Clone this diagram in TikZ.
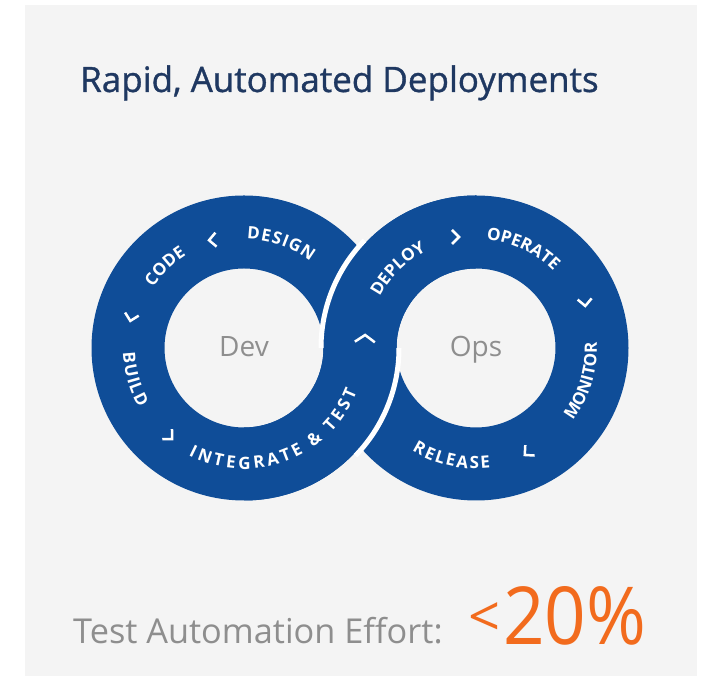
\documentclass[tikz,border=0pt]{standalone}
\usepackage{fontspec}
\setmainfont{Open Sans}
\newfontfamily\lblfont{Open Sans}
\newfontfamily\titlefont[FakeBold=1]{Open Sans}
\usetikzlibrary{decorations.text}
\definecolor{ringblue}{HTML}{0F4D98}
\definecolor{panelgray}{HTML}{F4F4F4}
\definecolor{titleblue}{HTML}{1F3861}
\definecolor{hubgray}{HTML}{8E8E8E}
\definecolor{effortorange}{HTML}{F26B1D}
\tikzset{
	ring/.style={fill=ringblue, even odd rule},
	gap/.style={draw=white, line width=5pt},
	chev/.style={draw=white, line width=2.5pt, line join=miter},
	arclabel/.style={decorate, decoration={text along path, text align={fit to path}, text color=white,
		text={|\lblfont\bfseries\fontsize{17}{17}\selectfont|#1}}},
	hubtext/.style={anchor=base, inner sep=0pt, text=hubgray, font=\fontsize{28}{28}\selectfont},
}

\begin{document}
\begin{tikzpicture}[x=1pt, y=1pt]
		\useasboundingbox (0,0) rectangle (705,676);
		\fill[white] (0,0) rectangle (705,676);
		\fill[panelgray] (25,0) rectangle (697,671);
		\coordinate (L) at (244,328);
		\coordinate (R) at (476,328);
		\fill[ring] (L) circle[radius=152.5] (L) circle[radius=79.5];
		\fill[ring] (R) circle[radius=152.5] (R) circle[radius=79.5];
		\fill[ringblue] (L) ++(270:152.5) arc[start angle=270, end angle=360, radius=152.5]
			arc[start angle=180, end angle=90, radius=79.5] -- ++(0,73)
			arc[start angle=90, end angle=180, radius=152.5]
			arc[start angle=0, end angle=-90, radius=79.5] -- cycle;
		\draw[gap] (R) ++(180:155) arc[start angle=180, end angle=136, radius=155];
		\draw[gap] (L) ++(0:155) arc[start angle=0, end angle=-44, radius=155];
		\path[arclabel=DESIGN] (L) ++(88.5:109) arc[start angle=88.5, end angle=52.5, radius=109];
		\path[arclabel=CODE] (L) ++(146.4:109) arc[start angle=146.4, end angle=123, radius=109];
		\path[arclabel=BUILD] (L) ++(182:121) arc[start angle=182, end angle=209.4, radius=121];
		\path[arclabel={INTEGRATE {\&} TEST}] (L) ++(242.7:121) arc[start angle=242.7, end angle=338.9, radius=121];
		\path[arclabel=DEPLOY] (R) ++(152:109) arc[start angle=152, end angle=118.5, radius=109];
		\path[arclabel=OPERATE] (R) ++(84.6:109) arc[start angle=84.6, end angle=46.4, radius=109];
		\path[arclabel=MONITOR] (R) ++(323:121) arc[start angle=323, end angle=361.4, radius=121];
		\path[arclabel=RELEASE] (R) ++(238:121) arc[start angle=238, end angle=276.8, radius=121];
		\draw[chev, shift={(212,436)}, rotate=185] (-4,7) -- (3,0) -- (-4,-7);
		\draw[chev, shift={(131,358)}, rotate=257] (-4,7) -- (3,0) -- (-4,-7);
		\draw[chev, shift={(170,239)}, rotate=316] (-4,7) -- (3,0) -- (-4,-7);
		\draw[chev, shift={(365,338)}, rotate=88] (-4,10) -- (3,0) -- (-4,-10);
		\draw[chev, shift={(456,439)}, rotate=0] (-4,7) -- (3,0) -- (-4,-7);
		\draw[chev, shift={(585,373)}, rotate=275] (-4,7) -- (3,0) -- (-4,-7);
		\draw[chev, shift={(527,223)}, rotate=222] (-4,7) -- (3,0) -- (-4,-7);
		\node[hubtext] (dev) at (244,319) {Dev};
		\node[hubtext] (ops) at (476,319) {Ops};
		\node[anchor=base west, inner sep=0pt, text=titleblue, font=\titlefont\fontsize{35}{35}\selectfont] (title) at (80,584) {Rapid, Automated Deployments};
		\node[anchor=base west, inner sep=0pt, text=hubgray, font=\fontsize{34.3}{34.3}\selectfont] (effort) at (73,32) {Test Automation Effort:};
		\node[inner sep=0pt, text=effortorange, font=\fontsize{56}{56}\selectfont] (lt) at (485,56) {<};
		\node[anchor=base west, inner sep=0pt, text=effortorange, font=\fontsize{80}{80}\selectfont] (pct) at (503,31) {\scalebox{0.91}[1]{20\%}};
	\end{tikzpicture}
\end{document}
